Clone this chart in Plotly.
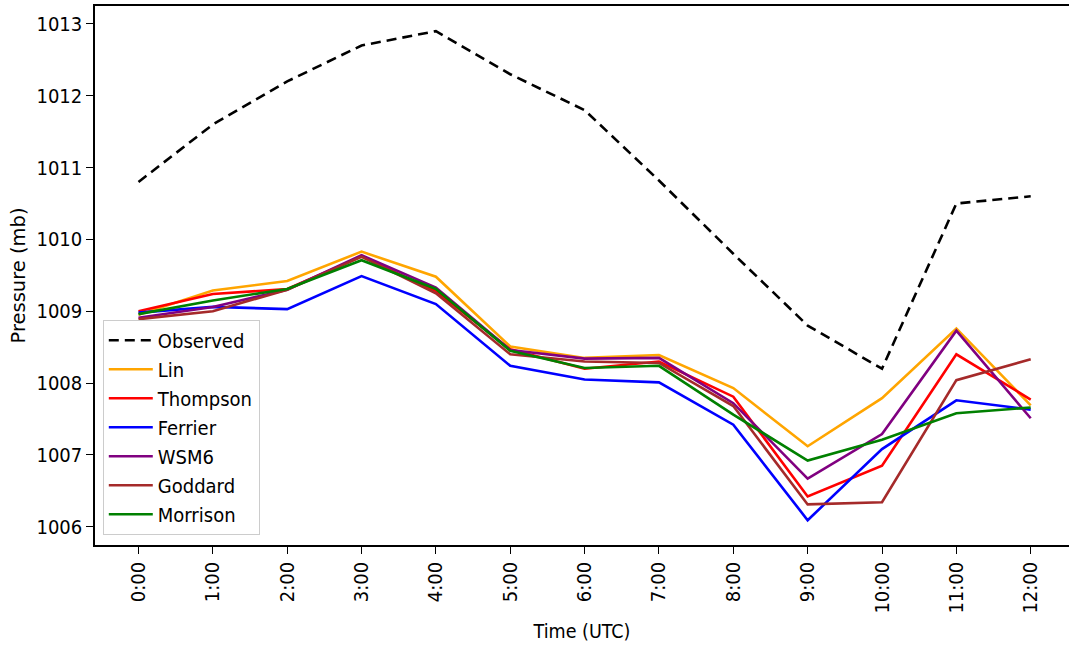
import plotly.graph_objects as go

times = ["0:00", "1:00", "2:00", "3:00", "4:00", "5:00", "6:00",
         "7:00", "8:00", "9:00", "10:00", "11:00", "12:00"]

observed = [1010.8, 1011.6, 1012.2, 1012.7, 1012.9, 1012.3, 1011.8,
            1010.82, 1009.8, 1008.8, 1008.2, 1010.5, 1010.6]
lin      = [1008.95, 1009.29, 1009.42, 1009.83, 1009.48, 1008.51, 1008.35,
            1008.39, 1007.93, 1007.12, 1007.79, 1008.76, 1007.69]
thompson = [1009.0, 1009.24, 1009.31, 1009.76, 1009.28, 1008.47, 1008.2,
            1008.3, 1007.81, 1006.42, 1006.85, 1008.4, 1007.77]
ferrier  = [1008.98, 1009.06, 1009.03, 1009.49, 1009.1, 1008.24, 1008.05,
            1008.01, 1007.42, 1006.09, 1007.08, 1007.76, 1007.63]
wsm6     = [1008.91, 1009.06, 1009.3, 1009.78, 1009.33, 1008.46, 1008.34,
            1008.35, 1007.72, 1006.67, 1007.29, 1008.73, 1007.51]
goddard  = [1008.89, 1009.0, 1009.3, 1009.76, 1009.25, 1008.4, 1008.3,
            1008.28, 1007.68, 1006.31, 1006.34, 1008.04, 1008.33]
morrison = [1008.96, 1009.15, 1009.31, 1009.71, 1009.31, 1008.45, 1008.21,
            1008.24, 1007.56, 1006.92, 1007.21, 1007.58, 1007.66]

x = list(range(len(times)))

COND = "DejaVu Sans Condensed"
REG = "DejaVu Sans"

fig = go.Figure()
fig.add_trace(go.Scatter(x=x, y=observed, mode="lines", name="Observed",
                         line=dict(color="black", width=2.6, dash="10px,6px")))
series = [("Lin", lin, "#FFA500"), ("Thompson", thompson, "#FF0000"),
          ("Ferrier", ferrier, "#0000FF"), ("WSM6", wsm6, "#800080"),
          ("Goddard", goddard, "#A52A2A"), ("Morrison", morrison, "#008000")]
for name, vals, col in series:
    fig.add_trace(go.Scatter(x=x, y=vals, mode="lines", name=name,
                             line=dict(color=col, width=2.6)))

fig.update_layout(
    width=1069, height=646,
    margin=dict(l=95, r=0, t=6, b=101),
    plot_bgcolor="white", paper_bgcolor="white",
    font=dict(family=COND, size=18, color="black"),
    xaxis=dict(range=[-0.585, 12.515], tickmode="array", tickvals=x, ticktext=times,
               tickangle=-90, showgrid=False, zeroline=False,
               tickfont=dict(family=COND, size=20),
               showline=True, linecolor="black", linewidth=1.5, mirror=True,
               ticks="outside", ticklen=7, tickcolor="black",
               title=dict(text="Time (UTC)", font=dict(family=COND, size=19.5), standoff=12)),
    yaxis=dict(range=[1005.745, 1013.25], tickvals=[1006, 1007, 1008, 1009, 1010, 1011, 1012, 1013],
               showgrid=False, zeroline=False,
               tickfont=dict(family=COND, size=20),
               showline=True, linecolor="black", linewidth=1.5,
               ticks="outside", ticklen=7, tickcolor="black",
               title=dict(text="Pressure (mb)", font=dict(family=REG, size=19.5), standoff=6)),
    legend=dict(x=0.008, y=0.019, xanchor="left", yanchor="bottom",
                bgcolor="rgba(255,255,255,0.85)", bordercolor="#cccccc", borderwidth=1,
                font=dict(family=COND, size=20), itemwidth=44),
    showlegend=True,
)

fig.write_html("out.html")
